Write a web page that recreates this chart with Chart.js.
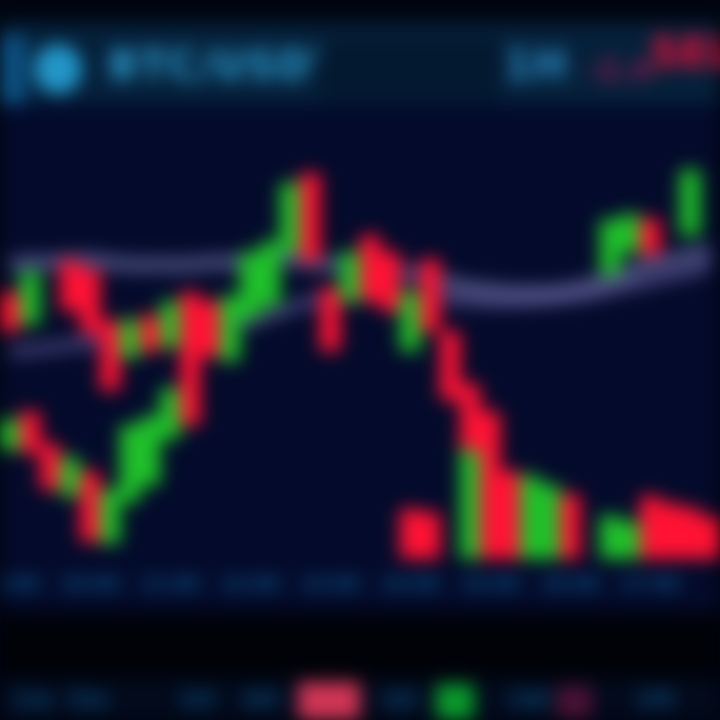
<!DOCTYPE html>
<html>
<head>
<meta charset="utf-8">
<script src="https://cdn.jsdelivr.net/npm/chart.js@4/dist/chart.umd.min.js"></script>
<style>
  html,body{margin:0;padding:0;background:#000510;width:720px;height:720px;overflow:hidden;font-family:"DejaVu Sans",sans-serif;}
  #wrap{position:absolute;left:0;top:0;width:720px;height:720px;filter:blur(9px);}
  .abs{position:absolute;}
  #header{left:0;top:22px;width:720px;height:84px;background:#05203a;}
  #chartBox{left:0;top:104px;width:720px;height:508px;background:#030a2a;}
  #band{left:0;top:612px;width:720px;height:66px;background:#000208;}
  #footer{left:0;top:678px;width:720px;height:42px;background:#020a1c;}
  .t{position:absolute;font-weight:bold;white-space:nowrap;}
</style>
</head>
<body>
<div id="wrap">
  <div id="header" class="abs"></div>
  <div class="abs" style="left:0;top:36px;width:26px;height:96px;background:#0c5283;"></div>
  <div class="abs" style="left:34px;top:44px;width:48px;height:50px;border-radius:50%;background:#2296c8;"></div>
  <div class="t" style="left:108px;top:42px;font-size:40px;color:#2b9bcc;letter-spacing:1px;">BTC/USDT</div>
  <div class="abs" style="left:320px;top:38px;width:180px;height:64px;background:#031930;"></div>
  <div class="t" style="left:503px;top:40px;font-size:42px;color:#2a8ac0;">1H</div>
  <div class="t" style="left:586px;top:52px;font-size:30px;color:#8e1a50;">-2.4</div>
  <div class="t" style="left:650px;top:28px;font-size:42px;color:#f0103a;">SELL</div>

  <div id="chartBox" class="abs"><canvas id="c" width="720" height="508"></canvas></div>

  <div id="band" class="abs"></div>
  <div id="footer" class="abs"></div>
  <div class="t" style="left:12px;top:686px;font-size:24px;color:#0b4573;">1m</div>
  <div class="t" style="left:68px;top:686px;font-size:24px;color:#0b4573;">5m</div>
  <div class="t" style="left:178px;top:686px;font-size:24px;color:#0b4573;">1H</div>
  <div class="t" style="left:242px;top:686px;font-size:24px;color:#0b4573;">4H</div>
  <div class="abs" style="left:298px;top:682px;width:62px;height:38px;background:#d03555;"></div>
  <div class="t" style="left:380px;top:686px;font-size:24px;color:#0b4573;">1D</div>
  <div class="abs" style="left:436px;top:684px;width:38px;height:36px;background:#0a9a2c;"></div>
  <div class="t" style="left:506px;top:686px;font-size:24px;color:#0b4573;">1W</div>
  <div class="abs" style="left:556px;top:686px;width:36px;height:32px;background:#4a1235;"></div>
  <div class="t" style="left:634px;top:686px;font-size:24px;color:#0b4573;">1M</div>
</div>
<script>
// ---- data ----
const categories = ["09:00","09:15","09:30","09:45","10:00","10:15","10:30","10:45","11:00","11:15","11:30","11:45",
  "12:00","12:15","12:30","12:45","13:00","13:15","13:30","13:45","14:00","14:15","14:30","14:45",
  "15:00","15:15","15:30","15:45","16:00","16:15","16:30","16:45","17:00","17:15","17:30","17:45"];
const tickEvery = 4;

// upper candle series (open / close)
const upperOpen  = [59,52,null,66,64,52.7,44.7,54,47,59,57,44,53.3,56,67.7,84.9,60,57,71.4,67.7,46.2,66.2,50.5,39,33,null,null,null,null,null,62.8,67.7,75,null,71.4,null];
const upperClose = [50.5,63.4,null,55,50,37.6,53,46,57,40,45,58,67.7,70,82.8,65.6,46.2,67.7,57,54.8,59.1,50.5,35.5,24.7,22,null,null,null,null,null,74.8,76,67,null,85.6,null];

// lower candle series (open / close)
const lowerOpen  = [24.7,33,26,14.6,20,4.3,13.3,17,27,40,null,null,null,null,null,null,null,null,null,null,11.8,11,null,1,27.5,20,1,1,15,null,1,1,14.6,13,12,10];
const lowerClose = [31.2,24,16,23,4.7,16,30,32,38,30,null,null,null,null,null,null,null,null,null,null,1,1,null,28.4,1,1,19,17,1,null,10.3,9,1,1,1,1];

// moving averages
const maFast = [65,65.5,65.5,66,66,65.5,65,65,65,65,65.5,65.5,66,66,66,65.5,65,64.5,64,63.5,63,62,61,60,59.5,59,59,59,59.5,60.5,62,63.5,65,66,67,68];
const maSlow = [46,46.5,47,47.5,48,48.3,48.6,49,49.2,49.5,50,51,52.5,54,55.5,57,57.5,58,58,58,58,57.8,57.5,57.2,57,57,57.2,57.5,58,58.5,59.5,60.5,61.5,62.5,63.5,65];

// ---- build ----
const UP = '#1fc02a', DOWN = '#ff1234';
function ranges(o, c){ return o.map((v,i)=> v==null ? null : [Math.min(v,c[i]), Math.max(v,c[i])]); }
function colors(o, c){ return o.map((v,i)=> v==null ? 'rgba(0,0,0,0)' : (c[i] >= v ? UP : DOWN)); }

new Chart(document.getElementById('c'), {
  data: {
    labels: categories,
    datasets: [
      { type:'line', data: maFast, borderColor:'rgba(125,125,185,0.6)', borderWidth:14, pointRadius:0, tension:0.4, order:3 },
      { type:'line', data: maSlow, borderColor:'rgba(115,105,175,0.55)', borderWidth:12, pointRadius:0, tension:0.4, order:3 },
      { type:'bar', data: ranges(upperOpen, upperClose), backgroundColor: colors(upperOpen, upperClose), grouped:false, barPercentage:1, categoryPercentage:1, order:1 },
      { type:'bar', data: ranges(lowerOpen, lowerClose), backgroundColor: colors(lowerOpen, lowerClose), grouped:false, barPercentage:1, categoryPercentage:1, order:1 }
    ]
  },
  options: {
    responsive:false, animation:false,
    layout:{ padding:{ left:0, right:0, top:0, bottom:6 } },
    plugins:{ legend:{display:false}, tooltip:{enabled:false} },
    scales:{
      x:{ offset:true,
          afterFit: s => { s.paddingLeft = 0; s.paddingRight = 0; },
          grid:{ color:'rgba(40,60,110,0.18)', drawTicks:false },
          border:{ display:false },
          ticks:{ autoSkip:false, maxRotation:0, padding:10, color:'#0f5a90', font:{ size:19, weight:'bold', family:'DejaVu Sans' },
                  callback:(v,i)=> i % tickEvery === 0 ? categories[i] : '' } },
      y:{ min:0, max:100, display:false }
    }
  }
});
</script>
</body>
</html>
